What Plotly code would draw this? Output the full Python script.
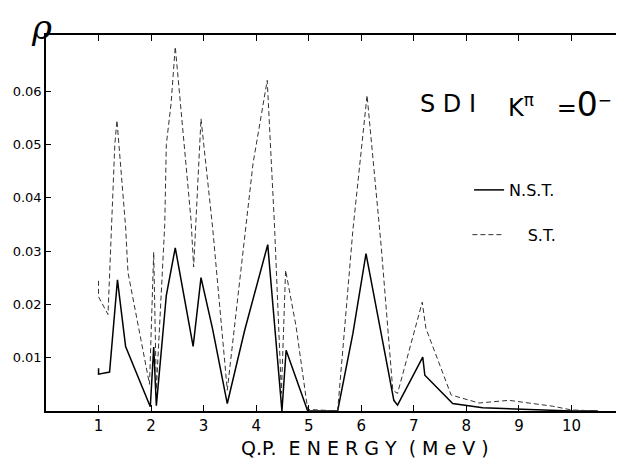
import plotly.graph_objects as go

# N.S.T. (solid) quasi-particle strength
nst_x = [1.0, 1.0, 1.21, 1.36, 1.515, 1.985, 2.05, 2.1, 2.29, 2.46, 2.80, 2.95, 3.17, 3.45,
         3.78, 4.22, 4.49, 4.57, 4.98, 5.55, 5.84, 6.09, 6.36, 6.62, 6.69, 7.17, 7.21,
         7.74, 8.31, 9.0, 10.0, 10.5]
nst_y = [0.0080, 0.0069, 0.0073, 0.0246, 0.0121, 0.0008, 0.0120, 0.0010, 0.0217, 0.0306,
         0.0121, 0.0250, 0.0154, 0.0014, 0.0151, 0.0312, 0.0000, 0.0114, 0.0000, 0.0000,
         0.0145, 0.0295, 0.0155, 0.0020, 0.0011, 0.0101, 0.0067, 0.0014, 0.0006, 0.0003,
         0.0000, 0.0000]

# S.T. (dashed)
st_x = [1.0, 1.0, 1.18, 1.31, 1.35, 1.515, 1.56, 1.97, 2.05, 2.1, 2.26, 2.29, 2.38, 2.46,
        2.76, 2.81, 2.95, 3.17, 3.45, 3.81, 3.94, 4.21, 4.35, 4.48, 4.56, 4.76, 4.98,
        5.55, 5.84, 6.11, 6.38, 6.60, 6.69, 7.16, 7.23, 7.71, 8.24, 8.81, 9.64, 10.0, 10.5]
st_y = [0.0244, 0.0214, 0.0181, 0.0500, 0.0545, 0.0345, 0.0260, 0.0050, 0.0298, 0.0040,
        0.0350, 0.0500, 0.0576, 0.0683, 0.0358, 0.0270, 0.0548, 0.0345, 0.0039, 0.0345,
        0.0464, 0.0620, 0.0345, 0.0033, 0.0264, 0.0158, 0.0003, 0.0000, 0.0339, 0.0592,
        0.0308, 0.0039, 0.0033, 0.0204, 0.0155, 0.0030, 0.0015, 0.0020, 0.0009, 0.0002,
        0.0000]

x_ticks = [1, 2, 3, 4, 5, 6, 7, 8, 9, 10]
x_tick_labels = [str(v) for v in x_ticks]
y_ticks = [0.01, 0.02, 0.03, 0.04, 0.05, 0.06]
y_tick_labels = ["0.01", "0.02", "0.03", "0.04", "0.05", "0.06"]

FONT = "DejaVu Sans"


def ann(text, x, y, size, xanchor="left", family=FONT):
    return dict(text=text, xref="paper", yref="paper", x=x, y=y, xanchor=xanchor,
                yanchor="middle", showarrow=False, font=dict(size=size, family=family))


fig = go.Figure()
fig.add_trace(go.Scatter(x=nst_x, y=nst_y, mode="lines", name="N.S.T.",
                         line=dict(color="black", width=1.5), legend="legend"))
fig.add_trace(go.Scatter(x=st_x, y=st_y, mode="lines", name="\u00a0\u00a0\u00a0\u00a0S.T.",
                         line=dict(color="#333333", width=1, dash="5px,3px"), legend="legend2"))

# page body has an 8px default margin, so the figure is 8px smaller and margins shifted
fig.update_layout(
    width=616, height=450,
    margin=dict(l=38, r=0, t=27, b=47, autoexpand=False),
    paper_bgcolor="white", plot_bgcolor="white",
    font=dict(family=FONT, color="black"),
    showlegend=True,
    legend=dict(x=0.732, y=0.633, xanchor="left", yanchor="top",
                font=dict(size=16, family=FONT), bgcolor="rgba(0,0,0,0)"),
    legend2=dict(x=0.729, y=0.514, xanchor="left", yanchor="top",
                 font=dict(size=16, family=FONT), bgcolor="rgba(0,0,0,0)"),
    xaxis=dict(range=[0, 11], tickvals=x_ticks, ticktext=x_tick_labels, automargin=False,
               showgrid=False, zeroline=False, showline=True, linecolor="black",
               linewidth=1.5, mirror="ticks", ticks="inside", ticklen=6,
               tickcolor="black", tickfont=dict(size=15, family=FONT)),
    yaxis=dict(range=[0, 0.0705], tickvals=y_ticks, ticktext=y_tick_labels, automargin=False,
               showgrid=False, zeroline=False, showline=True, linecolor="black",
               linewidth=1.5, mirror="ticks", ticks="inside", ticklen=5,
               tickcolor="black", tickfont=dict(size=13, family=FONT)),
    annotations=[
        ann("<i>ρ</i>", -0.008, 1.022, 34, xanchor="center", family="DejaVu Serif"),
        ann("S D I", 0.6436, 0.817, 24),
        ann("K<sup>π</sup>\u00a0\u00a0\u00a0=<span style='font-size:33px'>0</span><sup>−</sup>",
            0.795, 0.815, 24),
        ann("Q.P.\u00a0\u00a0E N E R G Y\u00a0\u00a0( M e V )", (365 - 46) / 578, -0.099, 19,
            xanchor="center"),
    ],
)

fig.write_html("out.html")
